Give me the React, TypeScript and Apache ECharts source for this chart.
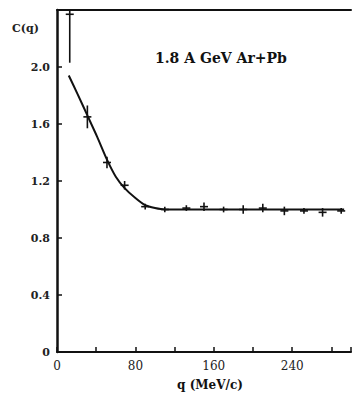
import React, { useEffect, useRef } from "react";
import * as echarts from "echarts";

const title = "1.8 A GeV Ar+Pb";
const yName = "C(q)";
const xName = "q (MeV/c)";

// measured points: q (MeV/c), C(q), error
const pointQ = [13, 31, 51, 69, 90, 110, 132, 150, 170, 190, 210, 232, 252, 271, 290];
const pointC = [2.37, 1.65, 1.33, 1.17, 1.02, 1.0, 1.01, 1.02, 1.0, 1.0, 1.01, 0.99, 0.99, 0.98, 0.99];
const pointErr = [0.34, 0.08, 0.04, 0.03, 0.02, 0.02, 0.02, 0.03, 0.02, 0.03, 0.03, 0.03, 0.02, 0.03, 0.02];

// fitted curve
const curveQ = [12, 21, 31, 41, 51, 60, 69, 80, 90, 100, 110, 140, 200, 293];
const curveC = [1.94, 1.81, 1.66, 1.51, 1.35, 1.23, 1.15, 1.08, 1.03, 1.01, 1.0, 1.0, 1.0, 1.0];

const serif = "'DejaVu Serif', 'Liberation Serif', serif";

export default function App() {
  const ref = useRef<HTMLDivElement>(null);
  useEffect(() => {
    if (!ref.current) return;
    const chart = echarts.init(ref.current, null, { renderer: "svg" });
    const pts = pointQ.map((q, i) => [q, pointC[i], pointErr[i]]);
    const curve = curveQ.map((q, i) => [q, curveC[i]]);
    chart.setOption({
      animation: false,
      backgroundColor: "#fff",
      grid: { left: 57, top: 10, width: 300, height: 342 },
      title: {
        text: title,
        left: 150,
        top: 46,
        textStyle: { fontFamily: serif, fontSize: 14, fontWeight: "bold", color: "#111" },
      },
      graphic: [
        {
          type: "text",
          left: 12,
          top: 23,
          style: { text: yName, font: `bold 11px ${serif}`, fill: "#222" },
        },
      ],
      xAxis: [
        {
          type: "value",
          min: 0,
          max: 300,
          interval: 40,
          name: xName,
          nameLocation: "middle",
          nameGap: 27,
          nameTextStyle: { fontFamily: serif, fontSize: 12, fontWeight: "bold", color: "#111", padding: [0, 0, 0, 12] },
          axisLine: { show: true, onZero: false, lineStyle: { color: "#111", width: 2 } },
          axisTick: { show: true, inside: true, length: 5, lineStyle: { color: "#111", width: 1.5 } },
          splitLine: { show: false },
          axisLabel: {
            fontFamily: serif,
            fontSize: 12,
            color: "#222",
            margin: 8,
            formatter: (v: number) => (v % 80 === 0 && v < 300 ? String(v) : ""),
          },
        },
        {
          type: "value",
          position: "top",
          min: 0,
          max: 300,
          axisLine: { show: true, onZero: false, lineStyle: { color: "#111", width: 2 } },
          axisTick: { show: false },
          axisLabel: { show: false },
          splitLine: { show: false },
        },
      ],
      yAxis: {
        type: "value",
        min: 0,
        max: 2.4,
        interval: 0.4,
        axisLine: { show: true, onZero: false, lineStyle: { color: "#111", width: 2.5 } },
        axisTick: { show: true, inside: true, length: 5, lineStyle: { color: "#111", width: 1.5 } },
        splitLine: { show: false },
        axisLabel: {
          fontFamily: serif,
          fontSize: 11,
          fontWeight: "bold",
          color: "#222",
          margin: 7,
          formatter: (v: number) => (v > 2.1 ? "" : v === 0 ? "0" : v.toFixed(1)),
        },
      },
      series: [
        {
          type: "line",
          data: curve,
          smooth: 0.25,
          showSymbol: false,
          symbol: "none",
          lineStyle: { color: "#111", width: 2 },
          z: 2,
        },
        {
          type: "custom",
          data: pts,
          z: 3,
          renderItem: (params: any, api: any) => {
            const q = api.value(0);
            const c = api.value(1);
            const e = api.value(2);
            const cs = params.coordSys;
            const p = api.coord([q, c]);
            const hi = api.coord([q, c + e]);
            const lo = api.coord([q, c - e]);
            const top = Math.max(hi[1], cs.y);
            return {
              type: "group",
              children: [
                {
                  type: "line",
                  shape: { x1: p[0], y1: top, x2: p[0], y2: lo[1] },
                  style: { stroke: "#111", lineWidth: 1.6 },
                },
                {
                  type: "line",
                  shape: { x1: p[0] - 4, y1: p[1], x2: p[0] + 4, y2: p[1] },
                  style: { stroke: "#111", lineWidth: 1.6 },
                },
              ],
            };
          },
        },
      ],
    });
    return () => chart.dispose();
  }, []);
  return (
    <div
      ref={ref}
      style={{ position: "fixed", left: 0, top: 0, width: 354, height: 396, background: "#fff" }}
    />
  );
}
